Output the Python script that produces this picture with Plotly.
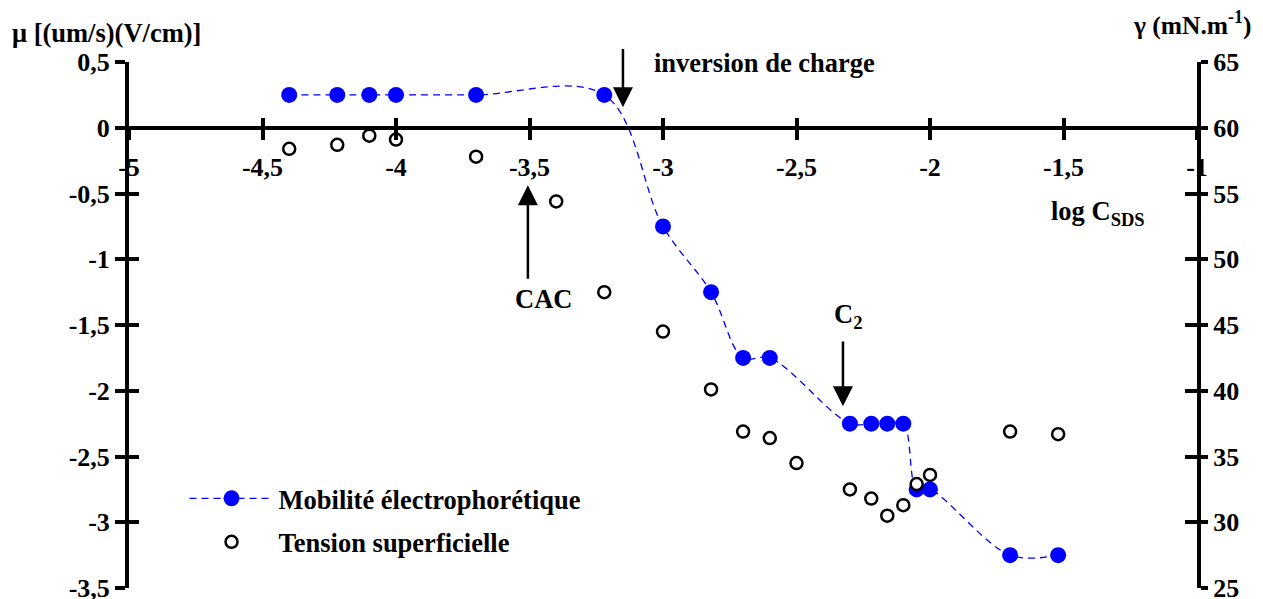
import plotly.graph_objects as go

# ---- data ----
log_c_mob = [-4.4, -4.22, -4.1, -4.0, -3.7, -3.22, -3.0, -2.82, -2.7, -2.6,
             -2.3, -2.22, -2.16, -2.1, -2.05, -2.0, -1.7, -1.52]
mobilite = [0.25, 0.25, 0.25, 0.25, 0.25, 0.25, -0.75, -1.25, -1.75, -1.75,
            -2.25, -2.25, -2.25, -2.25, -2.75, -2.75, -3.25, -3.25]
log_c_ten = [-4.4, -4.22, -4.1, -4.0, -3.7, -3.4, -3.22, -3.0, -2.82, -2.7,
             -2.6, -2.5, -2.3, -2.22, -2.16, -2.1, -2.05, -2.0, -1.7, -1.52]
tension = [58.4, 58.7, 59.4, 59.1, 57.8, 54.4, 47.5, 44.5, 40.1, 36.9,
           36.4, 34.5, 32.5, 31.8, 30.5, 31.3, 32.9, 33.6, 36.9, 36.7]

x_ticks = [-5, -4.5, -4, -3.5, -3, -2.5, -2, -1.5, -1]
x_text = ["-5", "-4,5", "-4", "-3,5", "-3", "-2,5", "-2", "-1,5", "-1"]
y_ticks = [-3.5, -3, -2.5, -2, -1.5, -1, -0.5, 0, 0.5]
y_text = ["-3,5", "-3", "-2,5", "-2", "-1,5", "-1", "-0,5", "0", "0,5"]
y2_ticks = [25, 30, 35, 40, 45, 50, 55, 60, 65]
y2_text = ["25", "30", "35", "40", "45", "50", "55", "60", "65"]

FONT = "Liberation Serif"

fig = go.Figure()
fig.add_trace(go.Scatter(
    x=log_c_mob, y=mobilite, mode="lines+markers",
    name="Mobilité électrophorétique", legendgroup="a",
    line=dict(color="#0000FF", width=1.3, dash="7px,5px", shape="spline", smoothing=1),
    marker=dict(color="#0000FF", size=16),
    xaxis="x", yaxis="y"))
fig.add_trace(go.Scatter(
    x=log_c_ten, y=tension, mode="markers",
    name="Tension superficielle", legendgroup="b",
    marker=dict(color="white", size=12, symbol="circle",
                line=dict(color="black", width=2.5)),
    xaxis="x", yaxis="y2"))
# empty helper traces so the overlay axes (inner half of the crossing ticks) are drawn
fig.add_trace(go.Scatter(x=[None], y=[None], mode="markers", showlegend=False,
                         hoverinfo="skip", xaxis="x2", yaxis="y3"))
fig.add_trace(go.Scatter(x=[None], y=[None], mode="markers", showlegend=False,
                         hoverinfo="skip", xaxis="x", yaxis="y4"))

common = dict(showgrid=False, zeroline=False, linecolor="black", linewidth=4,
              tickcolor="black", tickwidth=4, automargin=False,
              tickfont=dict(size=26), ticklabeloverflow="allow")

fig.update_layout(
    width=1255, height=591,
    margin=dict(l=121, r=66, t=54, b=11),
    paper_bgcolor="white", plot_bgcolor="white",
    font=dict(family=FONT, size=26, color="black", weight="bold"),
    showlegend=True,
    legend=dict(x=0.052, y=0.129, xanchor="left", yanchor="middle",
                bgcolor="rgba(0,0,0,0)", font=dict(size=26.5),
                tracegroupgap=6, itemwidth=84),
    xaxis=dict(range=[-5, -1], domain=[0, 1], anchor="free", position=0.875,
               tickvals=x_ticks, ticktext=x_text, ticks="outside", ticklen=10,
               showline=True, ticklabelstandoff=5, **common),
    xaxis2=dict(range=[-5, -1], domain=[0, 1], anchor="free", position=0.875,
                overlaying="x", side="bottom", tickvals=x_ticks, ticks="inside",
                ticklen=10, showticklabels=False, showline=False, **common),
    yaxis=dict(range=[-3.5, 0.5], domain=[0, 1], anchor="x", side="left",
               tickvals=y_ticks, ticktext=y_text, ticks="outside", ticklen=10,
               showline=True, **common),
    yaxis2=dict(range=[25, 65], domain=[0, 1], anchor="x", side="right",
                overlaying="y", tickvals=y2_ticks, ticktext=y2_text,
                ticks="outside", ticklen=7, showline=True, **common),
    yaxis3=dict(range=[-3.5, 0.5], anchor="x", side="left", overlaying="y",
                tickvals=y_ticks, ticks="inside", ticklen=10, showticklabels=False,
                showline=False, **common),
    yaxis4=dict(range=[25, 65], anchor="x", side="right", overlaying="y",
                tickvals=y2_ticks, ticks="inside", ticklen=12, showticklabels=False,
                showline=False, **common),
)

ann_font = dict(family=FONT, size=26.5, color="black", weight="bold")
annotations = [
    # axis titles
    dict(text="μ [(um/s)(V/cm)]", xref="paper", yref="paper", x=-0.1114, y=1.055,
         xanchor="left", yanchor="middle", showarrow=False, font=ann_font),
    dict(text="γ (mN.m<sup>-1</sup>)", xref="paper", yref="paper", x=0.938, y=1.073,
         xanchor="left", yanchor="middle", showarrow=False,
         font=dict(family=FONT, size=25.5, color="black", weight="bold")),
    dict(text="log C<sub>SDS</sub>", xref="x", yref="y", x=-1.371, y=-0.65,
         xanchor="center", yanchor="middle", showarrow=False, font=ann_font),
    # labels
    dict(text="inversion de charge", xref="x", yref="y", x=-3.041, y=0.489,
         xanchor="left", yanchor="middle", showarrow=False, font=ann_font),
    dict(text="CAC", xref="x", yref="y", x=-3.449, y=-1.302,
         xanchor="center", yanchor="middle", showarrow=False, font=ann_font),
    dict(text="C<sub>2</sub>", xref="x", yref="y", x=-2.307, y=-1.432,
         xanchor="center", yanchor="middle", showarrow=False, font=ann_font),
]
arrow_style = dict(text="", showarrow=True, arrowhead=2, arrowsize=1.6,
                   arrowwidth=2.5, arrowcolor="black", standoff=0, startstandoff=0,
                   xref="x", yref="y", axref="x", ayref="y")
annotations += [
    dict(x=-3.150, y=0.155, ax=-3.150, ay=0.611, **arrow_style),
    dict(x=-3.506, y=-0.438, ax=-3.506, ay=-1.16, **arrow_style),
    dict(x=-2.326, y=-2.117, ax=-2.326, ay=-1.615, **arrow_style),
]
fig.update_layout(annotations=annotations)

fig.write_html("out.html")
